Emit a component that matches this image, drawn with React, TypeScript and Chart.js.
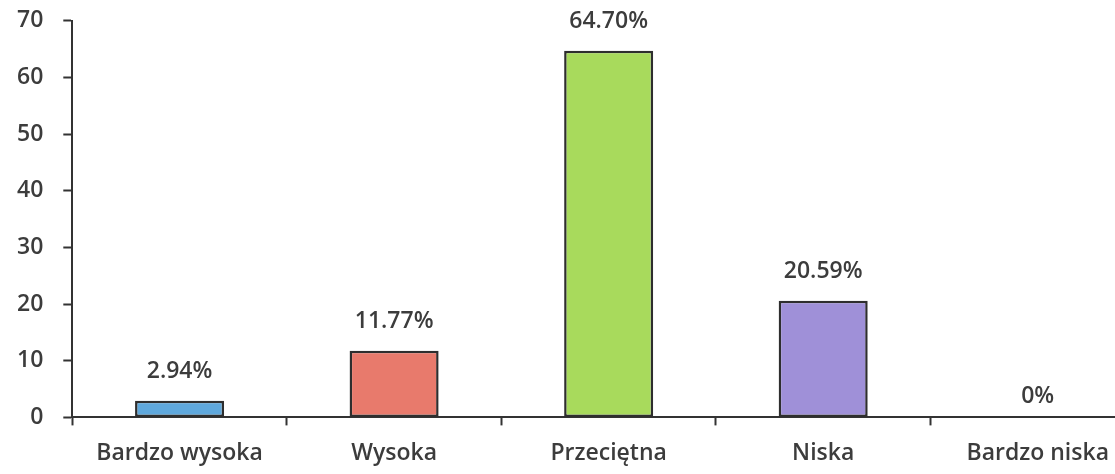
import React, { useEffect, useRef } from "react";
import { Chart, registerables } from "chart.js";

Chart.register(...registerables);

const categories = ["Bardzo wysoka", "Wysoka", "Przeciętna", "Niska", "Bardzo niska"];
const values = [2.94, 11.77, 64.7, 20.59, 0];
const valueLabels = ["2.94%", "11.77%", "64.70%", "20.59%", "0%"];
const barColors = ["#5fa8dc", "#e87a6c", "#a8da5c", "#9f90d8", "#9f90d8"];
const yTicks = [0, 10, 20, 30, 40, 50, 60, 70];

const FONT = "'Open Sans', Lato, sans-serif";
const FS = 23;
const TEXT = "#3c3c3c";
const AXIS = "#333333";

const labelPlugin = {
  id: "valueLabels",
  afterDatasetsDraw(chart: any) {
    const ctx = chart.ctx;
    const meta = chart.getDatasetMeta(0);
    ctx.save();
    ctx.font = `600 ${FS}px ${FONT}`;
    ctx.fillStyle = TEXT;
    ctx.textAlign = "center";
    ctx.textBaseline = "middle";
    meta.data.forEach((el: any, i: number) => {
      const off = values[i] === 0 ? 21 : 29;
      ctx.fillText(valueLabels[i], el.x, el.y - off);
    });
    ctx.restore();
  },
};

export default function App() {
  const ref = useRef<HTMLCanvasElement>(null);
  useEffect(() => {
    if (!ref.current) return;
    const chart = new Chart(ref.current, {
      type: "bar",
      data: {
        labels: categories,
        datasets: [
          {
            data: values,
            backgroundColor: barColors,
            borderColor: "#2e2e2e",
            borderWidth: values.map((v) => (v === 0 ? 0 : 2.5)),
            borderSkipped: false,
            categoryPercentage: 1,
            barPercentage: 0.415,
          },
        ],
      },
      options: {
        responsive: false,
        animation: false,
        layout: { padding: { top: 0, right: 4, left: 0, bottom: 10 } },
        plugins: { legend: { display: false }, tooltip: { enabled: false } },
        scales: {
          x: {
            grid: {
              display: true,
              drawOnChartArea: false,
              drawTicks: true,
              tickLength: 8,
              tickWidth: 2,
              tickColor: AXIS,
              offset: true,
            },
            border: { display: true, color: AXIS, width: 2 },
            ticks: { font: { family: FONT, size: FS, weight: 600 }, color: TEXT, padding: 14 },
          },
          y: {
            min: 0,
            max: 70,
            afterBuildTicks: (axis: any) => {
              axis.ticks = yTicks.map((v) => ({ value: v }));
            },
            grid: {
              display: true,
              drawOnChartArea: false,
              drawTicks: true,
              tickLength: 9,
              tickWidth: 2,
              tickColor: AXIS,
            },
            border: { display: true, color: AXIS, width: 2 },
            ticks: { font: { family: FONT, size: FS, weight: 600 }, color: TEXT, padding: 20 },
          },
        },
      },
      plugins: [labelPlugin],
    });
    return () => chart.destroy();
  }, []);
  return (
    <div style={{ position: "fixed", left: 0, top: 0, width: 1115, height: 474, overflow: "hidden", background: "#fff" }}>
      <canvas ref={ref} width={1152} height={504} style={{ display: "block", marginLeft: -3, marginTop: -13 }} />
    </div>
  );
}
